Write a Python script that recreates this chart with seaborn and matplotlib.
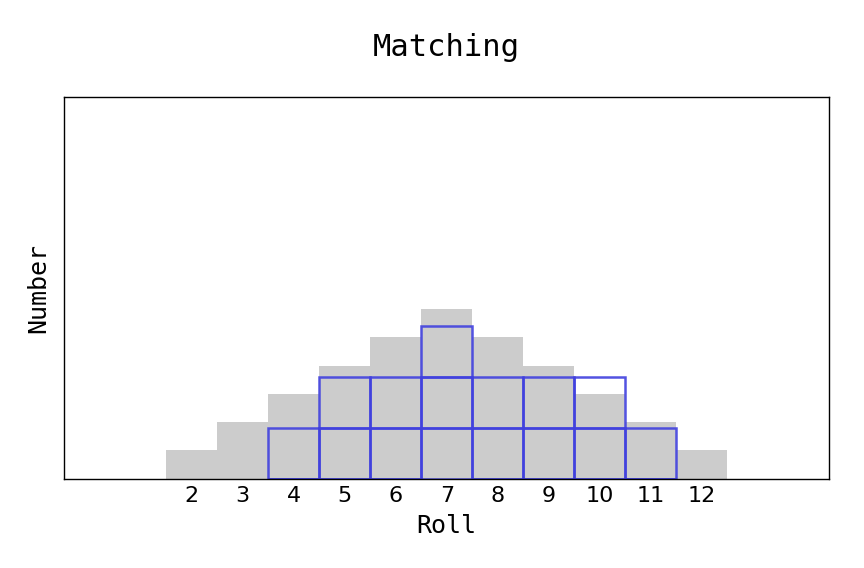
import matplotlib
matplotlib.use("Agg")
import matplotlib.pyplot as plt
import seaborn as sns
import pandas as pd

# Expected counts (gray) for each roll
rolls = [2, 3, 4, 5, 6, 7, 8, 9, 10, 11, 12]
expected = [0.56, 1.11, 1.67, 2.22, 2.78, 3.33, 2.78, 2.22, 1.67, 1.11, 0.56]

# Observed rolls (blue unit boxes)
observed_rolls = [4, 5, 6, 7, 8, 9, 10, 11]
observed_counts = [1, 2, 2, 3, 2, 2, 2, 1]

title = "Matching"
xlabel = "Roll"
ylabel = "Number"

sns.set_style("white")
plt.rcParams["text.color"] = "black"
plt.rcParams["axes.labelcolor"] = "black"
plt.rcParams["xtick.color"] = "black"
fig = plt.figure(figsize=(8.64, 5.68), dpi=100)
ax = fig.add_axes([0.074, 0.157, 0.886, 0.672])

sns.histplot(x=rolls, weights=expected, discrete=True, color="#cccccc",
             alpha=1, linewidth=0, ax=ax)

rows = []
for r, c in zip(observed_rolls, observed_counts):
    for k in range(c):
        rows.append({"roll": r, "layer": k})
df = pd.DataFrame(rows)
sns.histplot(data=df, x="roll", hue="layer", discrete=True, multiple="stack",
             fill=False, palette=["#3333dd"] * 3, edgecolor="#4444dd",
             linewidth=1.8, alpha=0.9, legend=False, ax=ax)
for p in ax.patches[len(rolls):]:
    p.set_edgecolor((0.25, 0.25, 0.87, 0.9))
    p.set_facecolor("none")
    p.set_linewidth(1.8)

ax.set_xlim(-0.5, 14.5)
ax.set_ylim(0, 7.5)
ax.set_xticks(rolls)
ax.set_xticklabels([str(r) for r in rolls], fontsize=16, family="DejaVu Sans")
ax.set_yticks([])
ax.tick_params(axis="x", direction="in", length=3, width=0.8, color="#444444",
               labelcolor="black", bottom=True, top=False, pad=5)
for s in ax.spines.values():
    s.set_color("black")
    s.set_linewidth(1)
ax.set_xlabel(xlabel, fontsize=18, family="DejaVu Sans Mono", labelpad=6,
              color="black")
ax.set_ylabel(ylabel, fontsize=18, family="DejaVu Sans Mono", labelpad=10,
              color="black")
fig.text(0.517, 0.917, title, fontsize=22, family="DejaVu Sans Mono",
         ha="center", va="center", color="black")
fig.savefig("out.png", dpi=100)
